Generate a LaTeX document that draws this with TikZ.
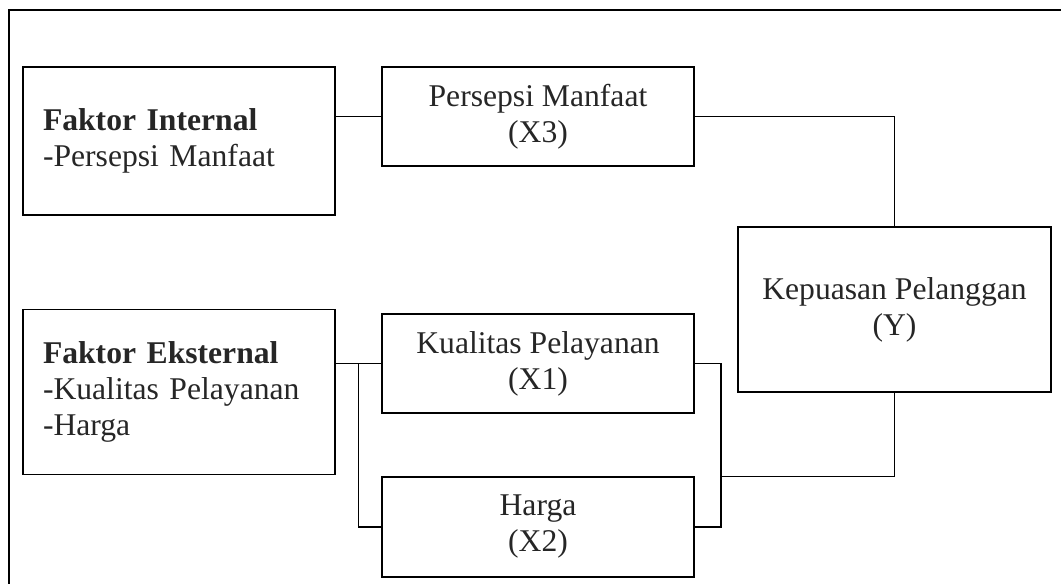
\documentclass[tikz,border=0pt]{standalone}
\usepackage{fontspec}
\setmainfont{Liberation Serif}
\usepackage{tikz}
\usetikzlibrary{calc}
\tikzset{
  var/.style={draw,line width=0.9pt,minimum width=7.8cm,align=center,inner sep=0pt,
    font=\fontsize{22.5}{25.6}\selectfont,text=black!85},
  fak/.style={var,text width=6.8cm,align=left,inner xsep=0.5cm},
  ln/.style={line width=0.9pt}
}

\begin{document}
\begin{tikzpicture}
\useasboundingbox (0,0) rectangle (26.525,14.6);
\draw[ln] (26.525,14.35) -- (0.225,14.35) -- (0.225,0);
\node[fak,minimum height=3.7cm] (fi) at (4.475,11.075) {\textbf{Faktor Internal}\\-Persepsi Manfaat};
\node[fak,minimum height=4.125cm] (fe) at (4.475,4.8) {\textbf{Faktor Eksternal}\\-Kualitas Pelayanan\\-Harga};
\node[var,minimum height=2.475cm] (x3) at (13.45,11.6875) {Persepsi Manfaat\\(X3)};
\node[var,minimum height=2.475cm] (x1) at (13.45,5.5125) {Kualitas Pelayanan\\(X1)};
\node[var,minimum height=2.5cm] (x2) at (13.45,1.425) {Harga\\(X2)};
\node[var,minimum width=7.825cm,minimum height=4.125cm] (kp) at (22.3625,6.8625) {Kepuasan Pelanggan\\(Y)};
\coordinate (jl) at ($(fe.east |- x1.west)!0.5!(x1.west)$);
\coordinate (jr) at (18.025,0 |- x2.north);
\draw[ln] (x3.west -| fi.east) -- (x3.west);
\draw[ln] (x3.east) -| (kp.north);
\draw[ln] (x1.west -| fe.east) -- (x1.west);
\draw[ln] (jl) |- (x2.west);
\draw[ln] (x1.east) -| (jr) |- (x2.east);
\draw[ln] (kp.south) |- (jr);
\end{tikzpicture}
\end{document}
